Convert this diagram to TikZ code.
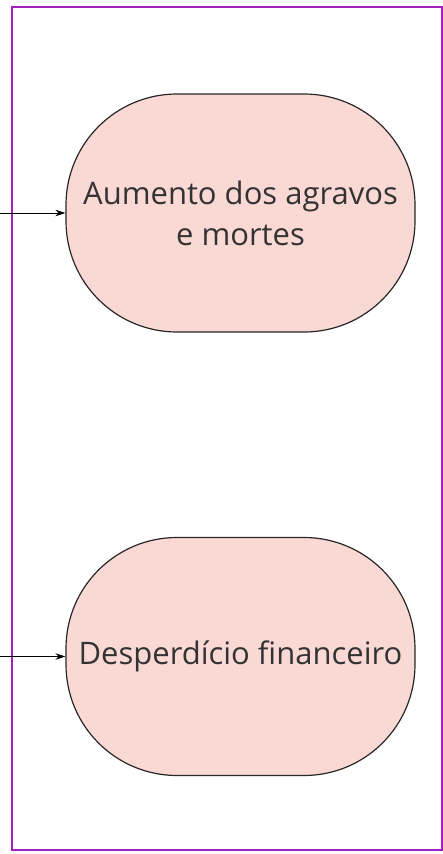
\documentclass[tikz,border=0pt]{standalone}
\usepackage{fontspec}
\setmainfont{Open Sans}
\usetikzlibrary{arrows.meta}
\definecolor{framepurple}{RGB}{163,32,190}
\definecolor{effectfill}{RGB}{250,217,213}
\definecolor{textgray}{RGB}{51,51,51}
\tikzset{effect/.style={draw=black!85,fill=effectfill,line width=1.2pt,minimum width=349pt,minimum height=238pt,rounded corners=111pt,text=textgray,align=center,font=\fontsize{31}{41}\selectfont},
cause/.style={-{Stealth[length=10pt,width=6.5pt]},line width=.9pt}}
\begin{document}
\begin{tikzpicture}[x=1pt,y=-1pt]
\useasboundingbox (0,0) rectangle (443,854);
\draw[framepurple,line width=2pt] (11.5,6.5) rectangle (441.5,849.5);
\node[effect] (agravos) at (240.5,213) {Aumento dos agravos\\e mortes};
\node[effect] (desperdicio) at (240.5,656.5) {Desperd\'icio financeiro};
\coordinate (inA) at (0,213);
\coordinate (inB) at (0,656.5);
\draw[cause] (inA) -- (agravos);
\draw[cause] (inB) -- (desperdicio);
\end{tikzpicture}
\end{document}
